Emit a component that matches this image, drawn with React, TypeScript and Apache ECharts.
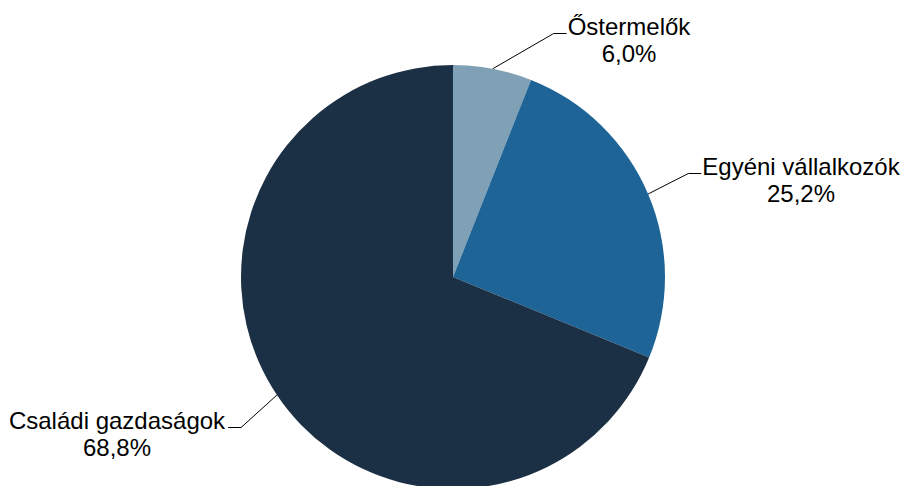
import React, { useEffect, useRef } from 'react';
import * as echarts from 'echarts';

const categories = ['Őstermelők', 'Egyéni vállalkozók', 'Családi gazdaságok'];
const shares = [6.0, 25.2, 68.8];
const colors = ['#7FA0B5', '#1E6496', '#1B3045'];

// layout: centres of the label blocks and the side the leader line attaches to
const labelCenters: number[][] = [[629, 40], [801, 180], [117, 434]];
const labelSides = ['right', 'right', 'left'];

export default function App() {
  const ref = useRef<HTMLDivElement>(null);
  useEffect(() => {
    const chart = echarts.init(ref.current!, null, { renderer: 'svg' });
    chart.setOption({
      animation: false,
      series: [
        {
          type: 'pie',
          center: [453, 277],
          radius: 212,
          startAngle: 90,
          clockwise: true,
          avoidLabelOverlap: false,
          silent: true,
          emphasis: { disabled: true },
          data: categories.map((name, i) => ({
            name,
            value: shares[i],
            itemStyle: { color: colors[i] },
          })),
          label: {
            show: true,
            position: 'outside',
            formatter: (p: any) => `${p.name}\n${Number(p.value).toFixed(1).replace('.', ',')}%`,
            fontFamily: '"Liberation Sans", Arial, sans-serif',
            fontSize: 24,
            lineHeight: 27,
            color: '#000',
          },
          labelLine: {
            show: true,
            length: 20,
            length2: 12,
            lineStyle: { color: '#000', width: 1 },
          },
          labelLayout: (params: any) => {
            const i = params.dataIndex;
            const [cx, cy] = labelCenters[i];
            const w = params.labelRect.width;
            const start = params.labelLinePoints && params.labelLinePoints[0];
            const ly = cy - 6.5;
            const right = labelSides[i] === 'right';
            const endX = right ? cx - w / 2 - 1 : cx + w / 2 + 3;
            const elbowX = right ? endX - 13 : endX + 13;
            const res: any = { x: cx, y: cy, align: 'center', verticalAlign: 'middle' };
            if (start) res.labelLinePoints = [start, [elbowX, ly], [endX, ly]];
            return res;
          },
        },
      ],
    });
    return () => chart.dispose();
  }, []);
  return (
    <div
      ref={ref}
      style={{ position: 'fixed', left: 0, top: 0, width: 904, height: 486, background: '#fff' }}
    />
  );
}
